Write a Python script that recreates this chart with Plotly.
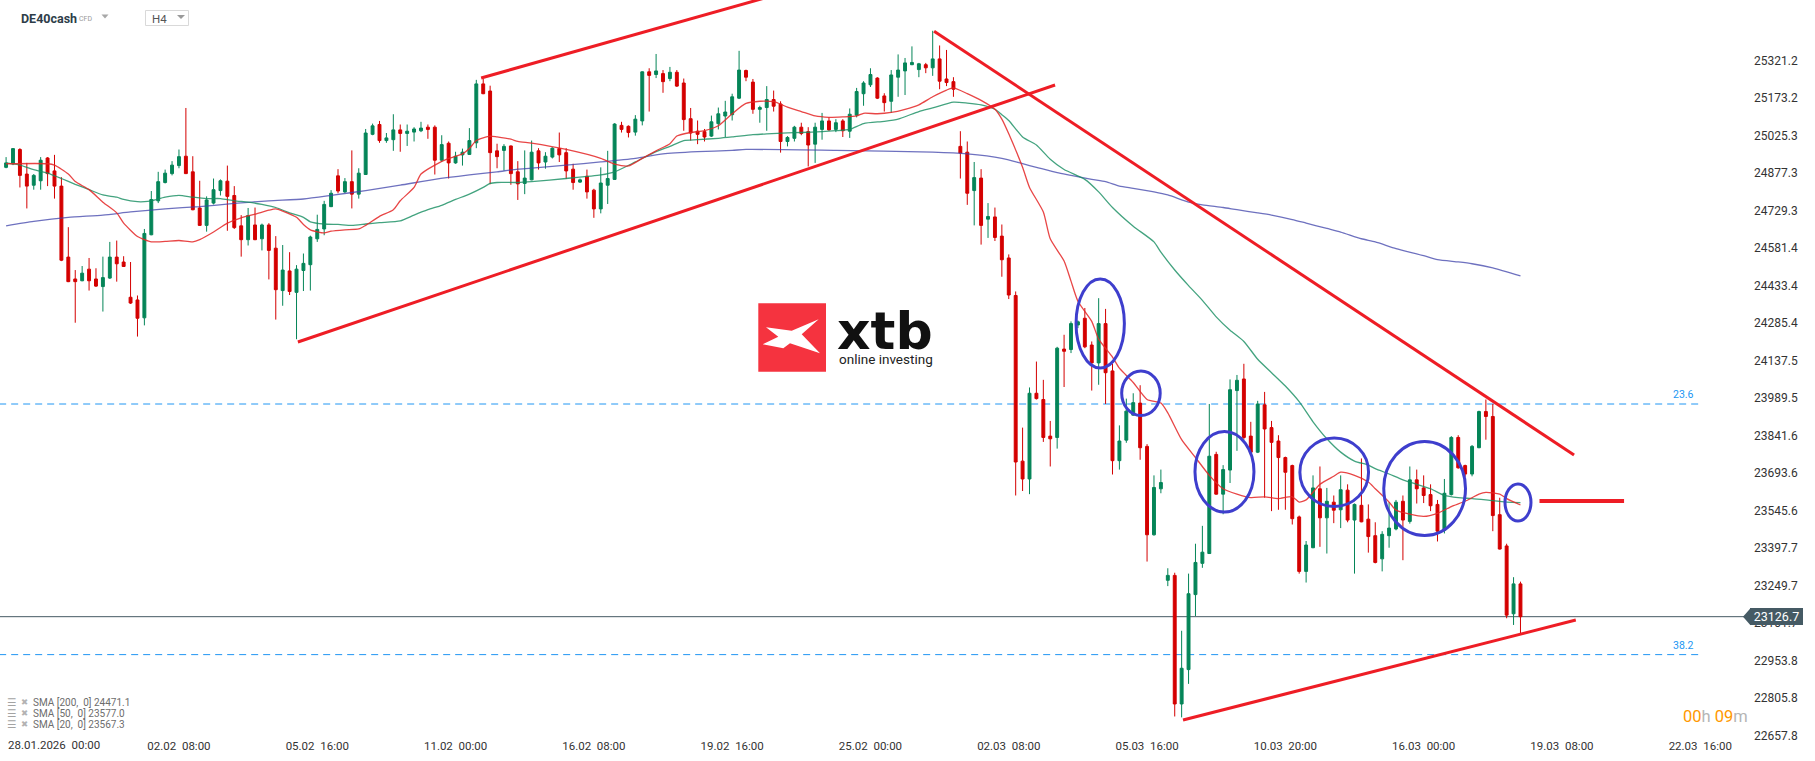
import plotly.graph_objects as go

# ---------------- data ----------------
candle_index = list(range(-5, 215))

open_price = [
    24899.7, 24913.8, 24970.1, 24873.3, 24829.2, 24846.8, 24936.7, 24885.6, 24825.7, 24545.6,
    24459.3, 24452.2, 24498.0, 24459.3, 24429.3, 24462.8, 24545.6, 24526.2, 24387.1, 24376.5,
    24306.0, 24633.7, 24767.6, 24839.8, 24875.0, 24906.7, 24943.7, 24882.1, 24739.4, 24670.7,
    24758.7, 24808.1, 24845.1, 24788.7, 24668.9, 24614.3, 24672.4, 24617.8, 24672.4, 24580.8,
    24413.5, 24491.0, 24406.4, 24492.7, 24515.6, 24617.8, 24656.6, 24744.7, 24866.2, 24802.8,
    24843.3, 24794.0, 24871.5, 25030.0, 25068.8, 25005.4, 25008.9, 25047.6, 25033.6, 25038.8,
    25044.1, 25058.2, 25058.2, 24927.9, 24994.8, 24917.3, 24949.0, 24950.8, 24996.6, 25229.1,
    25200.9, 24964.9, 24966.6, 24984.2, 24882.1, 24836.3, 24850.4, 24964.9, 24920.8, 24940.2,
    24973.7, 24957.8, 24892.6, 24841.5, 24864.4, 24809.8, 24735.8, 24829.2, 24852.1, 25065.3,
    25061.7, 25038.8, 25082.9, 25276.7, 25266.1, 25269.6, 25250.2, 25274.9, 25232.6, 25091.7,
    25042.4, 25040.6, 25023.0, 25072.3, 25102.3, 25107.5, 25172.7, 25281.9, 25236.1, 25128.7,
    25135.7, 25167.4, 25149.8, 25001.8, 25014.2, 25058.2, 25040.6, 24991.3, 25049.4, 25082.9,
    25049.4, 25082.9, 25042.4, 25105.8, 25190.3, 25225.6, 25252.0, 25181.5, 25160.4, 25255.5,
    25280.2, 25304.8, 25285.5, 25304.8, 25292.5, 25327.7, 25248.5, 25237.9, 24982.5, 24959.6,
    24808.1, 24857.4, 24695.3, 24704.1, 24628.4, 24542.1, 24394.1, 23740.5, 23670.1, 24008.3,
    23983.6, 23839.2, 23833.9, 24182.7, 24180.9, 24277.8, 24304.3, 24198.6, 24128.1, 24283.1,
    24096.4, 23742.3, 23823.3, 23922.0, 23969.5, 23798.7, 23449.9, 23631.3, 23270.2, 23289.6,
    22782.2, 22917.9, 23213.8, 23337.1, 23375.9, 23767.0, 23610.2, 23705.3, 24018.9, 24064.7,
    23839.2, 23775.8, 23962.5, 23872.7, 23819.8, 23754.6, 23722.9, 23520.3, 23305.4, 23398.8,
    23631.3, 23516.8, 23578.5, 23548.5, 23626.0, 23508.0, 23566.1, 23511.5, 23446.3, 23354.8,
    23446.3, 23472.8, 23582.0, 23502.7, 23666.6, 23634.8, 23608.4, 23569.7, 23467.5, 23608.4,
    23833.9, 23722.9, 23689.5, 23793.4, 23936.1, 23916.7, 23529.2, 23405.8, 23138.1, 23256.1,
]
high_price = [
    24940.2, 24975.4, 24975.4, 24917.3, 24873.3, 24940.2, 24940.2, 24949.0, 24860.9, 24663.6,
    24494.5, 24510.4, 24542.1, 24501.6, 24547.4, 24605.5, 24610.8, 24549.1, 24526.2, 24394.1,
    24656.6, 24806.3, 24882.1, 24890.9, 24924.3, 24970.1, 25134.0, 24943.7, 24846.8, 24785.2,
    24855.6, 24852.1, 24906.7, 24825.7, 24711.2, 24739.4, 24741.1, 24677.7, 24679.5, 24628.4,
    24593.2, 24565.0, 24513.9, 24559.7, 24630.2, 24712.9, 24767.6, 24809.8, 24892.6, 24857.4,
    24966.6, 24896.2, 25051.2, 25072.3, 25082.9, 25035.3, 25109.3, 25068.8, 25068.8, 25058.2,
    25079.4, 25068.8, 25065.3, 25026.5, 25001.8, 24961.3, 24973.7, 25054.7, 25245.0, 25248.5,
    25222.0, 24993.0, 24991.3, 24986.0, 24924.3, 24966.6, 25005.4, 24975.4, 24959.6, 24978.9,
    25037.1, 24975.4, 24913.8, 24855.6, 24890.9, 24815.1, 24899.7, 24964.9, 25074.1, 25079.4,
    25065.3, 25105.8, 25278.4, 25290.8, 25347.1, 25283.7, 25296.0, 25283.7, 25250.2, 25134.0,
    25084.6, 25051.2, 25104.0, 25135.7, 25162.2, 25190.3, 25359.5, 25285.5, 25248.5, 25142.8,
    25220.3, 25202.7, 25160.4, 25023.0, 25063.5, 25075.8, 25058.2, 25075.8, 25114.6, 25097.0,
    25089.9, 25089.9, 25132.2, 25213.2, 25239.7, 25290.8, 25255.5, 25192.1, 25283.7, 25345.4,
    25331.3, 25377.1, 25311.9, 25311.9, 25438.7, 25380.6, 25363.0, 25255.5, 25042.4, 25001.8,
    24920.8, 24892.6, 24758.7, 24741.1, 24674.2, 24556.2, 24410.0, 23872.7, 24031.2, 24133.4,
    24061.2, 23899.1, 24191.5, 24239.1, 24291.9, 24295.4, 24344.8, 24212.7, 24383.5, 24341.2,
    24124.6, 23881.5, 23987.2, 24008.3, 24040.0, 23807.5, 23684.2, 23707.1, 23317.8, 23300.1,
    23071.1, 23296.6, 23414.6, 23485.1, 23966.0, 23777.5, 23724.7, 24062.9, 24080.5, 24124.6,
    23895.6, 23978.4, 24013.6, 23899.1, 23842.7, 23758.2, 23726.5, 23525.6, 23425.2, 23684.2,
    23719.4, 23634.8, 23604.9, 23684.2, 23648.9, 23573.2, 23751.1, 23569.7, 23499.2, 23464.0,
    23578.5, 23587.3, 23604.9, 23719.4, 23707.1, 23684.2, 23648.9, 23587.3, 23670.1, 23839.2,
    23842.7, 23726.5, 23804.0, 23939.6, 23983.6, 23966.0, 23596.1, 23414.6, 23282.5, 23264.9,
]
low_price = [
    24896.2, 24908.5, 24820.4, 24737.6, 24811.6, 24811.6, 24825.7, 24776.4, 24529.7, 24446.9,
    24286.6, 24450.5, 24413.5, 24427.6, 24330.7, 24459.3, 24448.7, 24506.8, 24360.6, 24232.0,
    24276.1, 24631.9, 24758.7, 24836.3, 24868.0, 24896.2, 24873.3, 24730.6, 24668.9, 24646.0,
    24753.5, 24788.7, 24649.5, 24656.6, 24547.4, 24591.4, 24612.5, 24572.0, 24457.5, 24299.0,
    24353.6, 24395.9, 24221.5, 24411.7, 24413.5, 24605.5, 24631.9, 24742.9, 24797.5, 24797.5,
    24737.6, 24776.4, 24869.7, 25026.5, 24996.6, 24996.6, 24964.9, 24961.3, 24984.2, 25001.8,
    25038.8, 25012.4, 24871.5, 24920.8, 24855.6, 24913.8, 24906.7, 24949.0, 24975.4, 25188.6,
    24832.7, 24896.2, 24887.3, 24831.0, 24771.1, 24794.0, 24848.6, 24890.9, 24894.4, 24934.9,
    24920.8, 24853.9, 24811.6, 24838.0, 24776.4, 24700.6, 24718.2, 24755.2, 24850.4, 25037.1,
    25017.7, 25024.8, 25065.3, 25119.9, 25252.0, 25193.9, 25239.7, 25216.8, 25044.1, 25005.4,
    24991.3, 25001.8, 25019.5, 25049.4, 25019.5, 25084.6, 25169.2, 25239.7, 25111.1, 25075.8,
    25044.1, 25119.9, 24957.8, 24982.5, 25001.8, 25026.5, 24903.2, 24917.3, 25008.9, 25044.1,
    25038.8, 25019.5, 25015.9, 25097.0, 25142.8, 25216.8, 25169.2, 25119.9, 25114.6, 25178.1,
    25185.1, 25303.1, 25255.5, 25271.4, 25260.8, 25208.0, 25220.3, 25178.1, 24855.6, 24751.7,
    24670.7, 24594.9, 24621.3, 24609.0, 24468.1, 24380.0, 23604.9, 23622.5, 23610.2, 23983.6,
    23816.3, 23719.4, 23789.9, 24033.0, 24166.9, 24265.5, 24186.2, 24018.9, 24041.8, 23966.0,
    23687.7, 23707.1, 23812.8, 23920.2, 23745.8, 23344.2, 23446.3, 23613.7, 23247.3, 22732.9,
    22729.4, 22861.5, 23129.3, 23319.5, 23374.1, 23608.4, 23530.9, 23654.2, 23781.1, 23825.1,
    23772.3, 23772.3, 23596.1, 23543.2, 23548.5, 23548.5, 23490.4, 23296.6, 23261.4, 23397.0,
    23402.3, 23375.9, 23495.7, 23476.3, 23499.2, 23296.6, 23499.2, 23379.4, 23337.1, 23305.4,
    23398.8, 23467.5, 23349.5, 23493.9, 23573.2, 23575.0, 23543.2, 23423.5, 23455.2, 23604.9,
    23710.6, 23678.9, 23680.6, 23791.6, 23825.1, 23464.0, 23391.7, 23120.5, 23094.0, 23058.8,
]
close_price = [
    24917.3, 24973.7, 24868.0, 24825.7, 24868.0, 24927.9, 24875.0, 24825.7, 24533.3, 24448.7,
    24448.7, 24482.2, 24452.2, 24431.1, 24464.6, 24545.6, 24519.2, 24508.6, 24364.2, 24304.3,
    24639.0, 24772.8, 24843.3, 24876.8, 24908.5, 24942.0, 24875.0, 24732.3, 24670.7, 24771.1,
    24811.6, 24846.8, 24785.2, 24661.9, 24614.3, 24709.4, 24614.3, 24672.4, 24572.0, 24417.0,
    24494.5, 24410.0, 24498.0, 24520.9, 24624.9, 24654.8, 24753.5, 24797.5, 24806.3, 24843.3,
    24794.0, 24876.8, 25035.3, 25063.5, 25005.4, 25015.9, 25047.6, 25033.6, 25042.4, 25051.2,
    25054.7, 25049.4, 24927.9, 24989.5, 24917.3, 24943.7, 24959.6, 25005.4, 25229.1, 25190.3,
    24957.8, 24942.0, 24982.5, 24875.0, 24834.5, 24857.4, 24959.6, 24917.3, 24943.7, 24975.4,
    24949.0, 24885.6, 24839.8, 24850.4, 24802.8, 24735.8, 24838.0, 24855.6, 25070.6, 25049.4,
    25037.1, 25089.9, 25276.7, 25262.6, 25280.2, 25237.9, 25274.9, 25220.3, 25088.2, 25035.3,
    25030.0, 25019.5, 25079.4, 25111.1, 25118.1, 25178.1, 25283.7, 25255.5, 25128.7, 25135.7,
    25167.4, 25141.0, 25001.8, 25017.7, 25058.2, 25033.6, 24987.8, 25058.2, 25082.9, 25047.6,
    25075.8, 25044.1, 25109.3, 25199.1, 25232.6, 25266.1, 25172.7, 25155.1, 25264.3, 25283.7,
    25311.9, 25313.6, 25308.4, 25292.5, 25327.7, 25239.7, 25234.4, 25208.0, 24956.0, 24797.5,
    24859.2, 24670.7, 24705.9, 24623.1, 24535.0, 24395.9, 23737.0, 23670.1, 24008.3, 23987.2,
    23833.9, 23828.6, 24186.2, 24173.9, 24283.1, 24290.2, 24191.5, 24128.1, 24283.1, 24089.3,
    23742.3, 23819.8, 23937.8, 23971.3, 23793.4, 23449.9, 23636.6, 23656.0, 23289.6, 22782.2,
    22923.2, 23217.3, 23340.7, 23381.2, 23759.9, 23610.2, 23707.1, 24022.4, 24059.4, 23833.9,
    23775.8, 23966.0, 23867.4, 23814.5, 23754.6, 23696.5, 23513.3, 23305.4, 23409.4, 23634.8,
    23516.8, 23582.0, 23546.8, 23627.8, 23508.0, 23569.7, 23501.0, 23442.8, 23340.7, 23451.6,
    23476.3, 23578.5, 23508.0, 23666.6, 23631.3, 23604.9, 23564.4, 23464.0, 23613.7, 23833.9,
    23714.1, 23689.5, 23798.7, 23936.1, 23916.7, 23525.6, 23393.5, 23132.8, 23256.1, 23126.7,
]

sma20_x = [-5, 1, 2, 4, 5, 7, 9, 11, 12, 14, 15, 16, 18, 20, 22, 23, 25, 27, 29, 31, 33, 34, 35, 37, 38,
           39, 41, 42, 44, 46, 47, 49, 51, 52, 54, 55, 57, 59, 61, 62, 63, 65, 66, 68, 69, 71, 76, 81,
           83, 85, 87, 89, 91, 92, 94, 96, 98, 100, 102, 104, 106, 108, 110, 112, 114, 116, 118, 119,
           121, 123, 125, 127, 129, 131, 132, 134, 136, 138, 139, 140, 142, 143, 145, 146, 148, 149,
           150, 152, 153, 155, 156, 158, 160, 162, 163, 165, 167, 169, 171, 173, 175, 177, 179, 181,
           182, 183, 185, 187, 188, 190, 192, 193, 195, 196, 198, 200, 202, 204, 206, 208, 209, 211,
           212, 214]
sma20_y = [24914.0, 24914.0, 24908.7, 24873.5, 24843.5, 24811.8, 24762.5, 24720.2, 24679.7, 24626.8,
           24614.5, 24605.7, 24607.5, 24611.0, 24605.7, 24614.5, 24644.4, 24679.7, 24700.8, 24714.9,
           24730.8, 24736.0, 24727.2, 24702.6, 24674.4, 24653.3, 24640.9, 24647.9, 24653.3, 24656.8,
           24670.9, 24706.1, 24732.5, 24767.8, 24820.6, 24873.5, 24908.7, 24935.1, 24952.7, 24973.9,
           25005.6, 25023.2, 25019.7, 25010.9, 25002.0, 24995.0, 24970.3, 24935.1, 24912.2, 24905.2,
           24935.1, 24965.0, 24993.2, 25023.2, 25037.3, 25044.3, 25063.7, 25111.3, 25151.8, 25160.6,
           25158.8, 25137.7, 25120.1, 25102.5, 25097.2, 25098.9, 25102.5, 25113.0, 25111.3, 25116.5,
           25128.9, 25146.5, 25178.2, 25204.6, 25213.4, 25190.5, 25164.1, 25129.0, 25090.1, 25032.0,
           24899.9, 24820.6, 24723.7, 24618.0, 24530.0, 24450.7, 24371.4, 24292.1, 24221.7, 24151.2,
           24107.2, 24050.8, 23983.8, 23969.7, 23931.0, 23825.3, 23754.8, 23684.4, 23631.5, 23610.4,
           23596.3, 23599.8, 23592.8, 23599.8, 23578.7, 23587.5, 23649.1, 23680.8, 23696.7, 23684.4,
           23657.9, 23631.5, 23578.7, 23547.0, 23531.1, 23522.3, 23534.7, 23561.1, 23582.2, 23610.4,
           23617.4, 23610.4, 23592.8, 23567.3]

sma50_x = [-5, -3, -1, 1, 3, 5, 7, 9, 11, 12, 14, 15, 16, 18, 20, 22, 24, 26, 28, 30, 32, 34, 36, 38,
           39, 41, 43, 45, 47, 49, 52, 54, 56, 58, 60, 62, 64, 65, 66, 69, 71, 76, 81, 83, 86, 89, 91,
           93, 95, 98, 100, 103, 105, 108, 110, 113, 115, 117, 119, 122, 124, 127, 129, 132, 134, 136,
           138, 139, 140, 142, 144, 146, 148, 151, 153, 155, 158, 161, 162, 164, 166, 168, 170, 172,
           174, 176, 178, 180, 182, 184, 186, 188, 190, 192, 193, 195, 197, 199, 201, 203, 205, 207,
           209, 212, 214]
sma50_y = [24917.5, 24908.7, 24891.1, 24877.0, 24855.8, 24832.9, 24811.8, 24790.7, 24781.9, 24773.0,
           24764.2, 24764.2, 24767.8, 24781.9, 24788.9, 24781.9, 24776.6, 24776.6, 24767.8, 24762.5,
           24753.7, 24741.3, 24720.2, 24702.6, 24685.0, 24676.2, 24674.4, 24670.9, 24676.2, 24681.4,
           24688.4, 24711.3, 24732.5, 24750.1, 24773.0, 24794.2, 24820.6, 24836.4, 24840.0, 24840.0,
           24843.5, 24855.8, 24869.9, 24882.2, 24921.0, 24961.5, 24982.7, 25005.6, 25009.1, 25014.4,
           25019.7, 25028.5, 25032.0, 25035.5, 25037.3, 25040.8, 25044.3, 25049.6, 25072.6, 25081.3,
           25090.1, 25120.1, 25134.2, 25157.1, 25153.5, 25146.5, 25128.9, 25107.7, 25084.8, 25019.7,
           24988.0, 24931.6, 24891.1, 24852.3, 24803.0, 24741.3, 24667.4, 24605.7, 24565.2, 24494.7,
           24433.1, 24375.0, 24309.8, 24256.9, 24212.8, 24142.4, 24089.5, 24036.7, 23975.0, 23895.8,
           23828.8, 23776.0, 23740.7, 23724.9, 23710.8, 23689.7, 23666.8, 23649.1, 23631.5, 23605.1,
           23596.3, 23592.8, 23587.5, 23578.7, 23577.0]

sma200_x = [-5, -1, 4, 9, 13, 18, 23, 28, 33, 38, 42, 47, 52, 57, 62, 66, 69, 71, 76, 81, 86, 90, 95,
            100, 102, 115, 129, 134, 139, 142, 144, 147, 149, 152, 154, 156, 158, 161, 163, 166, 168,
            171, 173, 176, 178, 181, 183, 186, 188, 191, 193, 196, 200, 202, 205, 207, 210, 214]
sma200_y = [24669.1, 24686.7, 24702.6, 24711.4, 24723.7, 24736.0, 24744.9, 24757.2, 24767.8, 24774.8,
            24788.9, 24808.3, 24829.4, 24852.3, 24869.9, 24882.2, 24892.8, 24896.3, 24908.7, 24921.0,
            24935.1, 24952.7, 24961.5, 24966.8, 24970.3, 24966.8, 24959.8, 24952.7, 24935.1, 24914.0,
            24899.9, 24878.7, 24868.2, 24852.3, 24843.5, 24825.9, 24817.1, 24803.0, 24790.7, 24762.5,
            24751.9, 24741.3, 24732.5, 24720.2, 24711.4, 24693.8, 24679.7, 24658.5, 24644.4, 24618.0,
            24605.7, 24579.3, 24551.1, 24535.2, 24526.4, 24519.4, 24503.0, 24471.1]

y_tick_vals = [25321.2, 25173.2, 25025.3, 24877.3, 24729.3, 24581.4, 24433.4, 24285.4, 24137.5,
               23989.5, 23841.6, 23693.6, 23545.6, 23397.7, 23249.7, 23101.7, 22953.8, 22805.8, 22657.8]
x_tick_vals = [20, 40, 60, 80, 100, 120, 140, 160, 180, 200, 220, 240]
x_tick_text = ["02.02  08:00", "05.02  16:00", "11.02  00:00", "16.02  08:00", "19.02  16:00",
               "25.02  00:00", "02.03  08:00", "05.03  16:00", "10.03  20:00", "16.03  00:00",
               "19.03  08:00", "22.03  16:00"]
first_tick_text = "28.01.2026  00:00"

# drawn analysis objects (candle index, price)
trend_lines = [
    (63.7, 25252.3, 105.0, 25570.3),
    (37.2, 24210.6, 146.7, 25224.7),
    (129.2, 25437.0, 221.75, 23764.7),
    (165.2, 22719.0, 222.0, 23113.6),
]
level_line = (216.75, 228.98, 23583.0)
ellipses = [
    (149.73, 156.72, 24108.0, 24459.2),
    (156.33, 161.90, 23920.5, 24096.1),
    (166.93, 175.46, 23539.7, 23857.0),
    (182.10, 192.03, 23561.0, 23831.7),
    (194.23, 206.05, 23446.6, 23818.3),
    (211.76, 215.52, 23504.2, 23650.2),
]
fib_levels = [("23.6", 23965.9), ("38.2", 22977.0)]
fib_end_index = 239.7

# ---------------- styling / layout helpers ----------------
UP = "#058558"
DOWN = "#d40000"
TREND = "#ee1d25"
CIRCLE = "rgb(62,62,205)"
FIB = "#2196f3"
PRICE_LINE = "#455a64"

PLOT_W = 1745
PLOT_H = 737


def px(x):
    return x / PLOT_W


def py(y):
    return 1 - y / PLOT_H


def ppath(points):
    return "M " + " L ".join(f"{px(a):.5f} {py(b):.5f}" for a, b in points) + " Z"


def nb(s):
    return s.replace("  ", " \u00a0")


fig = go.Figure()
fig.add_trace(go.Candlestick(
    x=candle_index, open=open_price, high=high_price, low=low_price, close=close_price,
    increasing=dict(line=dict(color=UP, width=1), fillcolor=UP),
    decreasing=dict(line=dict(color=DOWN, width=1), fillcolor=DOWN),
    whiskerwidth=0, hoverinfo="skip", showlegend=False,
))
fig.add_trace(go.Scatter(x=sma200_x, y=sma200_y, mode="lines", hoverinfo="skip", showlegend=False,
                         line=dict(color="rgba(62,66,170,0.75)", width=1.3, shape="spline", smoothing=0.6)))
fig.add_trace(go.Scatter(x=sma50_x, y=sma50_y, mode="lines", hoverinfo="skip", showlegend=False,
                         line=dict(color="rgba(20,140,95,0.8)", width=1.3, shape="spline", smoothing=0.6)))
fig.add_trace(go.Scatter(x=sma20_x, y=sma20_y, mode="lines", hoverinfo="skip", showlegend=False,
                         line=dict(color="rgba(228,38,38,0.85)", width=1.3, shape="spline", smoothing=0.6)))

shapes = []
# current price line
shapes.append(dict(type="line", xref="paper", x0=0, x1=1, yref="y", y0=close_price[-1], y1=close_price[-1],
                   line=dict(color=PRICE_LINE, width=1), layer="below"))
# fib levels
for _, lvl in fib_levels:
    shapes.append(dict(type="line", xref="x", x0=candle_index[0] - 1, x1=fib_end_index, yref="y", y0=lvl, y1=lvl,
                       line=dict(color=FIB, width=1, dash="7px,5px"), layer="below"))
# trend lines
for x0, y0, x1, y1 in trend_lines:
    shapes.append(dict(type="line", xref="x", yref="y", x0=x0, y0=y0, x1=x1, y1=y1,
                       line=dict(color=TREND, width=3)))
shapes.append(dict(type="line", xref="x", yref="y", x0=level_line[0], x1=level_line[1],
                   y0=level_line[2], y1=level_line[2], line=dict(color=TREND, width=4)))
# ellipses
for x0, x1, y0, y1 in ellipses:
    shapes.append(dict(type="circle", xref="x", yref="y", x0=x0, x1=x1, y0=y0, y1=y1,
                       line=dict(color=CIRCLE, width=3)))

# logo
shapes.append(dict(type="rect", xref="paper", yref="paper", x0=px(758.3), x1=px(826), y0=py(371.7), y1=py(303.3),
                   fillcolor="#f5333f", line=dict(width=0), layer="below"))
shapes.append(dict(type="path", xref="paper", yref="paper", layer="below", fillcolor="white", line=dict(width=0),
                   path=ppath([(766, 327.3), (791.7, 330.7), (818.7, 319.3), (801.7, 334.3), (820, 353.3),
                               (790, 343.3), (783.3, 348.3), (762.7, 344.3), (778.3, 336.7)])))
# header widgets
shapes.append(dict(type="path", xref="paper", yref="paper", fillcolor="#a8a8a8", line=dict(width=0),
                   path=ppath([(101.5, 14.5), (108.5, 14.5), (105, 18.5)])))
shapes.append(dict(type="rect", xref="paper", yref="paper", x0=px(145.5), x1=px(188.5), y0=py(25.5), y1=py(10.5),
                   fillcolor="white", line=dict(color="#d9d9d9", width=1)))
shapes.append(dict(type="path", xref="paper", yref="paper", fillcolor="#9a9a9a", line=dict(width=0),
                   path=ppath([(177, 15), (185, 15), (181, 19)])))
# price badge arrow tip
shapes.append(dict(type="path", xref="paper", yref="paper", fillcolor=PRICE_LINE, line=dict(width=0),
                   path=ppath([(1743, 616.75), (1750.5, 608.25), (1750.5, 625.25)])))

annotations = []


def add_text(text, x, y, size, color, xanchor="left", family="Roboto"):
    annotations.append(dict(text=text, x=px(x), y=py(y), xref="paper", yref="paper", xanchor=xanchor,
                            yanchor="middle", showarrow=False, font=dict(family=family, size=size, color=color)))


add_text("<b>DE40cash</b>", 19, 18.5, 12.5, "#2e3d49")
add_text("CFD", 77, 19, 7, "#9a9a9a")
add_text("H4", 150, 18.5, 11.5, "#555555")
add_text(nb(first_tick_text), 6, 745, 11.5, "#333333")

legend_rows = [("200", sma200_y[-1], 702), ("50", sma50_y[-1], 713), ("20", sma20_y[-1], 724)]
for per, val, yy in legend_rows:
    add_text("\u2630", 5, yy, 10.5, "#a3a3a3", family="DejaVu Sans")
    add_text("\u2716", 19, yy, 8.5, "#b3b3b3", family="DejaVu Sans")
    add_text(nb(f"SMA [{per},  0] {val:.1f}"), 31, yy, 10, "#6d6d6d")

for lab, lvl in fib_levels:
    yy = 585.5 + (23249.7 - lvl) / 3.946 - 9
    add_text(lab, 1696, yy, 10.5, FIB, xanchor="right")

add_text("<span style='color:#ff9800'>00</span><span style='color:#b5b5b5'>h </span>"
         "<span style='color:#ff9800'>09</span><span style='color:#b5b5b5'>m</span>",
         1750, 716, 16.5, "#ff9800", xanchor="right")

# price badge body (annotation so it sits above the axis labels)
annotations.append(dict(text=f"{close_price[-1]:.1f}", x=px(1750), y=py(616.75), xref="paper", yref="paper",
                        xanchor="left", yanchor="middle", showarrow=False, width=53, height=17,
                        bgcolor=PRICE_LINE, borderpad=0, borderwidth=0, align="center",
                        font=dict(family="Roboto", size=12.5, color="white")))

# logo text
add_text("<b>xtb</b>", 835, 331, 52, "#111111", family="DejaVu Sans")
add_text("online investing", 837, 359.5, 13.5, "#222222")

fig.update_layout(
    width=1815, height=761,
    margin=dict(l=0, r=70, t=0, b=24),
    paper_bgcolor="white", plot_bgcolor="white",
    showlegend=False, hovermode=False, boxgap=0.4,
    shapes=shapes, annotations=annotations,
    font=dict(family="Roboto"),
)
fig.update_xaxes(
    range=[-5.88, 246.47], rangeslider=dict(visible=False), showgrid=False, zeroline=False, showline=False,
    ticks="", tickvals=x_tick_vals, ticktext=[nb(t) for t in x_tick_text],
    tickfont=dict(family="Roboto", size=11.5, color="#333333"), automargin=False,
)
fig.update_yaxes(
    range=[22651.9, 25560.1], side="right", showgrid=False, zeroline=False, showline=False, ticks="",
    tickvals=y_tick_vals, ticktext=[f"{v:.1f}" for v in y_tick_vals],
    tickfont=dict(family="Roboto", size=12, color="#333333"), ticklabelstandoff=8, automargin=False,
)

fig.write_html("out.html", config={"displayModeBar": False},
               post_script="document.body.style.margin='0';")
